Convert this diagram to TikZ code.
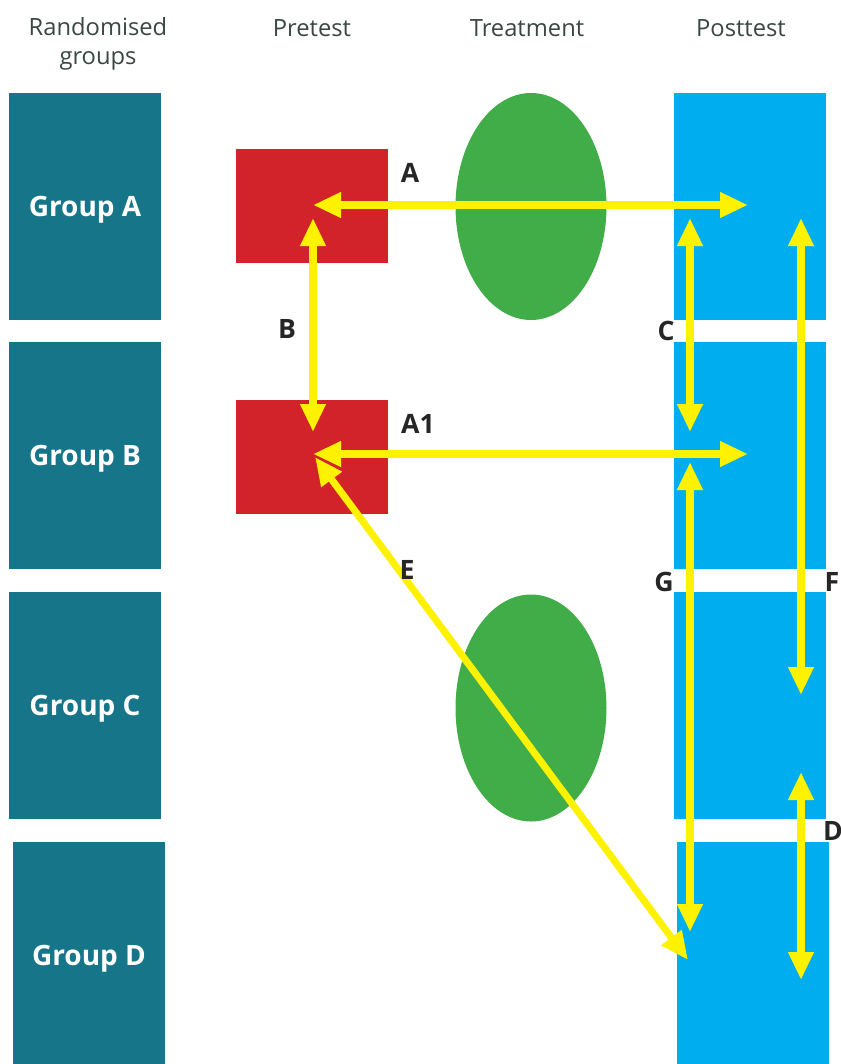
\documentclass[tikz,border=0pt]{standalone}
\usepackage{fontspec}
\setmainfont{Open Sans}
\usepackage{tikz}
\usetikzlibrary{calc,arrows.meta,positioning,shapes}

\definecolor{grpteal}{HTML}{17758A}
\definecolor{prered}{HTML}{D2232A}
\definecolor{treatgreen}{HTML}{41AD49}
\definecolor{postblue}{HTML}{00AEEF}
\definecolor{arryellow}{HTML}{FFF200}
\definecolor{headgrey}{HTML}{3A4744}

\tikzset{
	grpbox/.style={fill=grpteal,minimum width=114pt,minimum height=170.25pt,inner sep=0,
		text=white,text depth=0pt,font=\fontsize{21}{24}\selectfont\bfseries},
	prebox/.style={fill=prered,minimum width=114pt,minimum height=85.5pt,inner sep=0},
	postbox/.style={fill=postblue,minimum width=114pt,minimum height=170.25pt,inner sep=0},
	treat/.style={fill=treatgreen,ellipse,minimum width=113.25pt,minimum height=170.25pt,inner sep=0},
	head/.style={text=headgrey,font=\fontsize{17.8}{22}\selectfont,align=center},
	lbl/.style={font=\fontsize{20}{22}\selectfont\bfseries,text=black!85},
	yarrow/.style={draw=arryellow,line width=5.3pt,{Triangle[length=21pt,width=18pt]}-{Triangle[length=21pt,width=18pt]}}
}

\begin{document}
\begin{tikzpicture}[x=0.75pt,y=-0.75pt]
	\useasboundingbox (0,0) rectangle (841,1064);
	% column heads
	\node[head] (h1) at (98,44) {Randomised\\groups};
	\node[head] (h2) at (312,28) {Pretest};
	\node[head] (h3) at (527,28) {Treatment};
	\node[head] (h4) at (741,28) {Posttest};
	% groups
	\node[grpbox] (ga) at (85,206.5) {Group A};
	\node[grpbox] (gb) at (85,455.5) {Group B};
	\node[grpbox] (gc) at (85,705.5) {Group C};
	\node[grpbox] (gd) at (89,955.5) {Group D};
	% posttest
	\node[postbox] (pa) at (750,206.5) {};
	\node[postbox] (pb) at (750,455.5) {};
	\node[postbox] (pc) at (750,705.5) {};
	\node[postbox] (pd) at (752.5,955.5) {};
	% pretest and treatment
	\node[prebox] (ra) at (312,206) {};
	\node[prebox] (rb) at (312,457) {};
	\node[treat] (ta) at (531,206.5) {};
	\node[treat] (tc) at (531,708) {};
	% arrow ends
	\coordinate (ra1) at (313,205);
	\coordinate (ra2) at (313,218);
	\coordinate (rb1) at (313,454);
	\coordinate (rb2) at (313,432);
	\coordinate (rb3) at (315,457);
	\coordinate (pa1) at (748,205);
	\coordinate (pa2) at (690,218);
	\coordinate (pa3) at (801,218);
	\coordinate (pb1) at (748,454);
	\coordinate (pb2) at (690,432);
	\coordinate (pb3) at (690,462);
	\coordinate (pc1) at (801,695);
	\coordinate (pc2) at (801,772);
	\coordinate (pd1) at (690,932);
	\coordinate (pd2) at (801,980);
	\coordinate (pd3) at (688,960);
	\draw[yarrow] (ra1) -- (pa1);
	\draw[yarrow] (ra2) -- (rb2);
	\draw[yarrow] (rb1) -- (pb1);
	\draw[yarrow] (pa2) -- (pb2);
	\draw[yarrow] (pb3) -- (pd1);
	\draw[yarrow] (pa3) -- (pc1);
	\draw[yarrow] (pc2) -- (pd2);
	\draw[yarrow] (rb3) -- (pd3);
	% labels
	\node[lbl] (la) at (410,173) {A};
	\node[lbl] (lb) at (287,329) {B};
	\node[lbl] (lc) at (666,331) {C};
	\node[lbl] (la1) at (418,424) {A1};
	\node[lbl] (le) at (407,570) {E};
	\node[lbl] (lg) at (664,582) {G};
	\node[lbl] (lf) at (832,582) {F};
	\node[lbl] (ld) at (833,831) {D};
\end{tikzpicture}
\end{document}
